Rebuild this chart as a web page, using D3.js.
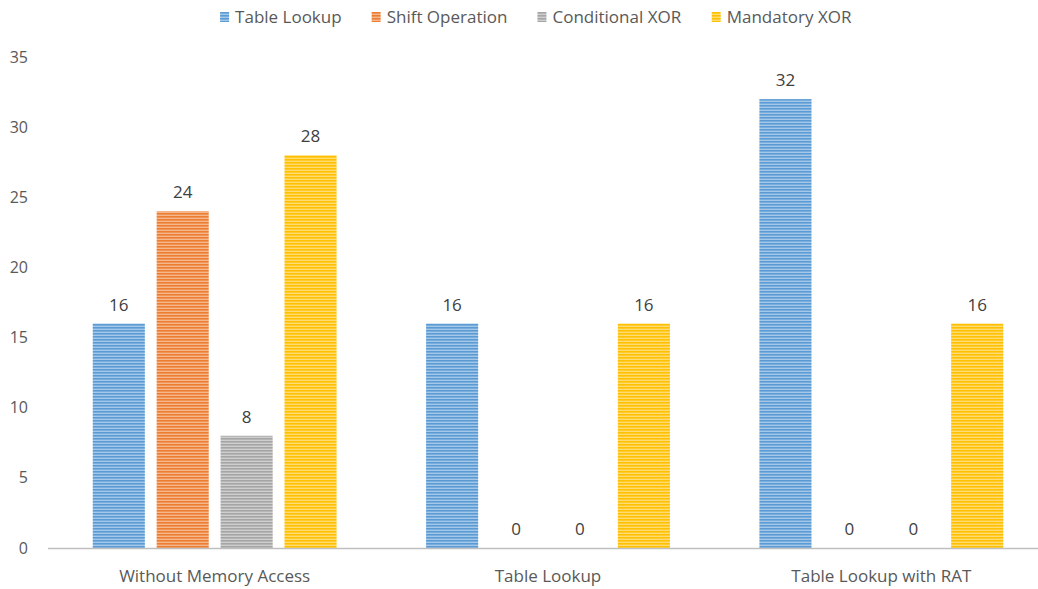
<!DOCTYPE html>
<html>
<head>
<meta charset="utf-8">
<script src="https://cdn.jsdelivr.net/npm/d3@7"></script>
<style>
  body { margin: 0; background: #fff; }
  text { font-family: "Open Sans", "Noto Sans", sans-serif; fill: #595959; }
</style>
</head>
<body>
<div id="chart"></div>
<script>
// 数据
const categories = ["Without Memory Access", "Table Lookup", "Table Lookup with RAT"];
const seriesNames = ["Table Lookup", "Shift Operation", "Conditional XOR", "Mandatory XOR"];
const tableLookup = [16, 16, 32];
const shiftOperation = [24, 0, 0];
const conditionalXor = [8, 0, 0];
const mandatoryXor = [28, 16, 16];
const yTicks = [0, 5, 10, 15, 20, 25, 30, 35];

const seriesValues = [tableLookup, shiftOperation, conditionalXor, mandatoryXor];
const colors = ["#5B9BD5", "#ED7D31", "#A5A5A5", "#FFC000"];

const width = 1038, height = 589;
const svg = d3.select("#chart").append("svg")
    .attr("width", width)
    .attr("height", height);

// 条纹填充
const defs = svg.append("defs");
colors.forEach((c, i) => {
    const p = defs.append("pattern")
        .attr("id", "stripe" + i)
        .attr("patternUnits", "userSpaceOnUse")
        .attr("width", 6).attr("height", 3);
    p.append("rect").attr("width", 6).attr("height", 3)
        .attr("fill", d3.interpolateRgb(c, "#fff")(0.45));
    p.append("rect").attr("y", 0).attr("width", 6).attr("height", 1.6)
        .attr("fill", c);
});

const x0 = d3.scaleBand().domain(categories).range([48, 1048]);
const x1 = d3.scaleBand().domain(seriesNames)
    .range([0, x0.bandwidth()]).paddingInner(0.185).paddingOuter(0.7);
const y = d3.scaleLinear().domain([0, 35]).range([548, 57]);

// y 轴刻度
svg.append("g").selectAll("text").data(yTicks).join("text")
    .attr("x", 28)
    .attr("y", d => y(d))
    .attr("dy", "0.35em")
    .attr("text-anchor", "end")
    .style("font-size", "16px")
    .text(d => d);

// 柱子
const groups = svg.append("g").selectAll("g").data(categories).join("g")
    .attr("transform", d => `translate(${x0(d)},0)`);

groups.each(function(cat, ci) {
    const g = d3.select(this);
    seriesNames.forEach((s, si) => {
        const v = seriesValues[si][ci];
        if (v > 0) {
            g.append("rect")
                .attr("x", x1(s))
                .attr("y", y(v))
                .attr("width", x1.bandwidth())
                .attr("height", y(0) - y(v))
                .attr("fill", `url(#stripe${si})`);
        }
        g.append("text")
            .attr("x", x1(s) + x1.bandwidth() / 2)
            .attr("y", y(v) - 13)
            .attr("text-anchor", "middle")
            .style("font-size", "17px")
            .style("fill", "#404040")
            .text(v);
    });
});

// x 轴
svg.append("line")
    .attr("x1", 48).attr("x2", width)
    .attr("y1", y(0) + 0.5).attr("y2", y(0) + 0.5)
    .attr("stroke", "#BFBFBF").attr("stroke-width", 1.5);

svg.append("g").selectAll("text").data(categories).join("text")
    .attr("x", d => x0(d) + x0.bandwidth() / 2)
    .attr("y", 582)
    .attr("text-anchor", "middle")
    .style("font-size", "17px")
    .text(d => d);

// 图例
const legend = svg.append("g");
const items = legend.selectAll("g").data(seriesNames).join("g");
items.append("rect")
    .attr("y", 12).attr("width", 9).attr("height", 10)
    .attr("fill", (d, i) => `url(#stripe${i})`);
items.append("text")
    .attr("x", 15).attr("y", 17).attr("dy", "0.35em")
    .style("font-size", "17px")
    .text(d => d);
const gap = 30;
let lx = 0;
items.each(function() {
    const w = this.getBBox().width;
    d3.select(this).attr("transform", `translate(${lx},0)`);
    lx += w + gap;
});
const total = lx - gap;
legend.attr("transform", `translate(${536 - total / 2},0)`);
</script>
</body>
</html>
